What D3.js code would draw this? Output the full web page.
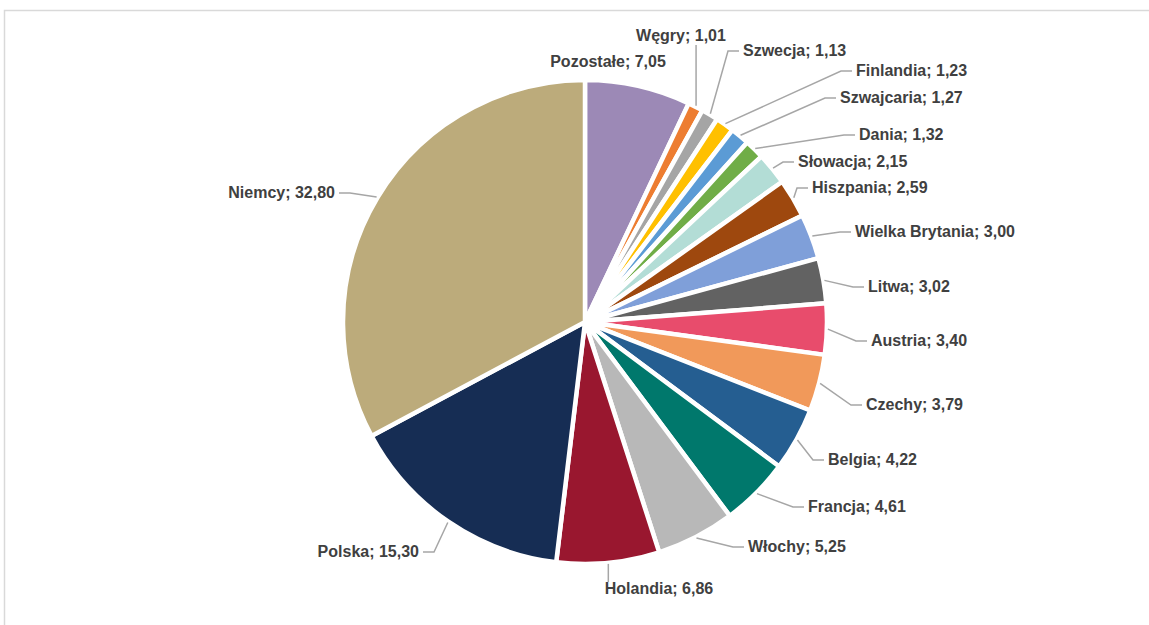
<!DOCTYPE html>
<html>
<head>
<meta charset="utf-8">
<script src="https://cdn.jsdelivr.net/npm/d3@7"></script>
<style>
  html, body { margin: 0; padding: 0; background: #fff; }
  svg { display: block; }
</style>
</head>
<body>
<svg id="chart" width="1149" height="625"></svg>
<script>
const categories = ["Pozostałe", "Węgry", "Szwecja", "Finlandia", "Szwajcaria", "Dania", "Słowacja", "Hiszpania", "Wielka Brytania", "Litwa", "Austria", "Czechy", "Belgia", "Francja", "Włochy", "Holandia", "Polska", "Niemcy"];
const values = [7.05, 1.01, 1.13, 1.23, 1.27, 1.32, 2.15, 2.59, 3.00, 3.02, 3.40, 3.79, 4.22, 4.61, 5.25, 6.86, 15.30, 32.80];
const colors = ["#9c89b6", "#ed7d31", "#a5a5a5", "#ffc000", "#5b9bd5", "#70ad47", "#b3ddd6", "#9e480e", "#7f9fd9", "#626262", "#e84c6c", "#f1995a", "#255e91", "#00786c", "#b8b8b8", "#99172f", "#162d54", "#bcab7b"];

// label layout (text anchor point and leader type), separate from data
const labelLayout = [
  { x: 608, y: 67, anchor: "middle", leader: "none" },
  { x: 681, y: 41, anchor: "middle", leader: "vUp" },
  { x: 743, y: 56, anchor: "start", leader: "h" },
  { x: 856, y: 76, anchor: "start", leader: "h" },
  { x: 840, y: 103, anchor: "start", leader: "h" },
  { x: 859, y: 140, anchor: "start", leader: "h" },
  { x: 798, y: 167, anchor: "start", leader: "h" },
  { x: 812, y: 193, anchor: "start", leader: "h" },
  { x: 855, y: 237, anchor: "start", leader: "h" },
  { x: 868, y: 292, anchor: "start", leader: "h" },
  { x: 871, y: 346, anchor: "start", leader: "h" },
  { x: 866, y: 410, anchor: "start", leader: "h" },
  { x: 828, y: 465, anchor: "start", leader: "h" },
  { x: 808, y: 512, anchor: "start", leader: "h" },
  { x: 748, y: 552, anchor: "start", leader: "h" },
  { x: 659, y: 594, anchor: "middle", leader: "vDown" },
  { x: 419, y: 557, anchor: "end", leader: "h" },
  { x: 335, y: 198, anchor: "end", leader: "h" }
];

const fmt = v => v.toFixed(2).replace(".", ",");

const svg = d3.select("#chart");
const W = 1149, H = 625;
const cx = 585, cy = 322, R = 242;

// frame
svg.append("path")
  .attr("d", `M4.5,${H} L4.5,10.5 L${W},10.5`)
  .attr("fill", "none").attr("stroke", "#d9d9d9").attr("stroke-width", 1.5);

const data = categories.map((c, i) => ({ name: c, value: values[i], color: colors[i], layout: labelLayout[i] }));

const pie = d3.pie().value(d => d.value).sort(null).startAngle(0).endAngle(2 * Math.PI);
const arcs = pie(data);
const arc = d3.arc().innerRadius(0).outerRadius(R);

const g = svg.append("g").attr("transform", `translate(${cx},${cy})`);
g.selectAll("path.slice").data(arcs).enter().append("path")
  .attr("class", "slice")
  .attr("d", arc)
  .attr("fill", d => d.data.color)
  .attr("stroke", "#fff")
  .attr("stroke-width", 4.5)
  .attr("stroke-linejoin", "round");

// leader lines
const leaderG = svg.append("g");
arcs.forEach(a => {
  const L = a.data.layout;
  if (L.leader === "none") return;
  const mid = (a.startAngle + a.endAngle) / 2;
  const px = cx + (R + 1) * Math.sin(mid);
  const py = cy - (R + 1) * Math.cos(mid);
  let pts;
  const ly = L.y - 5;
  if (L.leader === "vUp") {
    pts = [[px, py], [px, L.y + 4]];
  } else if (L.leader === "vDown") {
    pts = [[px, py], [px, L.y - 12]];
  } else if (L.anchor === "start") {
    const ex = L.x - 4;
    const elx = Math.max(Math.min(ex - 11, ex), px);
    pts = [[px, py], [elx, ly], [ex, ly]];
  } else {
    const ex = L.x + 4;
    const elx = Math.min(ex + 11, px);
    pts = [[px, py], [elx, ly], [ex, ly]];
  }
  leaderG.append("path")
    .attr("d", d3.line()(pts))
    .attr("fill", "none")
    .attr("stroke", "#a6a6a6")
    .attr("stroke-width", 1.5);
});

// labels
svg.append("g").selectAll("text").data(arcs).enter().append("text")
  .attr("x", d => d.data.layout.x)
  .attr("y", d => d.data.layout.y)
  .attr("text-anchor", d => d.data.layout.anchor)
  .attr("font-family", "'Liberation Sans', Arial, sans-serif")
  .attr("font-weight", "bold")
  .attr("font-size", 16)
  .attr("fill", "#404040")
  .text(d => `${d.data.name}; ${fmt(d.data.value)}`);
</script>
</body>
</html>
